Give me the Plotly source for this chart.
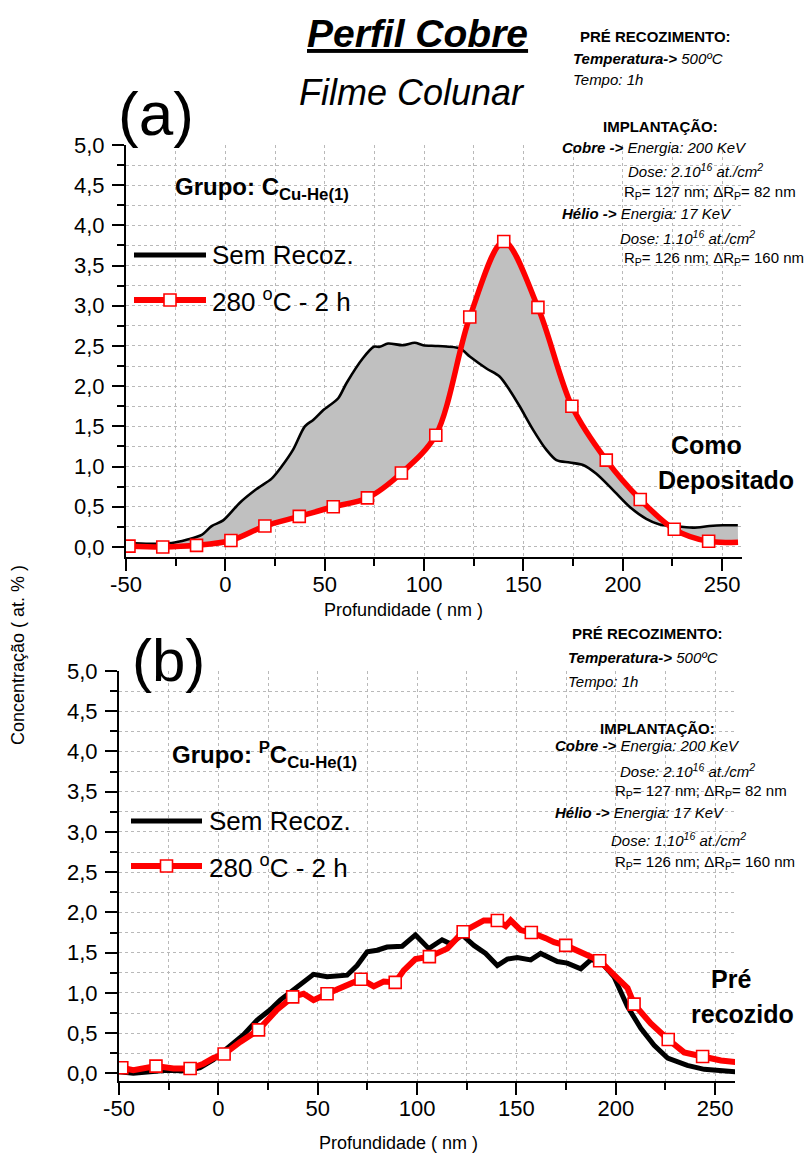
import plotly.graph_objects as go

W, H = 810, 1156
FONT = "Liberation Sans, Arial, sans-serif"

# ---------------- Panel (a): Filme colunar, como depositado ----------------
a_black_x = [-49.7, -37.9, -27.0, -19.5, -11.9, -6.9, -1.1, 7.3, 15.7, 23.3, 28.3, 34.1,
             40.0, 44.2, 49.2, 56.8, 61.0, 69.3, 74.7, 77.7, 81.9, 89.4, 95.3, 99.5,
             107.0, 118.0, 123.0, 131.4, 138.0, 143.1, 148.1, 154.8, 161.5, 166.6, 173.3,
             180.0, 186.7, 195.0, 203.4, 211.8, 218.5, 225.2, 235.3, 243.6, 250.4, 257.9]
a_black_y = [0.05, 0.04, 0.05, 0.09, 0.15, 0.26, 0.33, 0.55, 0.72, 0.85, 1.00, 1.21,
             1.50, 1.58, 1.70, 1.85, 2.04, 2.35, 2.49, 2.49, 2.53, 2.51, 2.54, 2.51,
             2.50, 2.47, 2.37, 2.22, 2.12, 1.95, 1.75, 1.46, 1.21, 1.08, 1.05,
             1.02, 0.91, 0.71, 0.50, 0.35, 0.28, 0.26, 0.24, 0.26, 0.27, 0.27]

a_red_x = [-48.5, -31.5, -14.5, 2.8, 19.9, 37.2, 54.3, 71.5, 88.6, 105.9, 123.0,
           140.1, 157.3, 174.4, 191.7, 208.8, 225.9, 243.2]
a_red_y = [0.01, 0.00, 0.02, 0.08, 0.26, 0.38, 0.50, 0.61, 0.92, 1.39, 2.86,
           3.80, 2.98, 1.75, 1.08, 0.59, 0.22, 0.07]
a_red_tail_x = [258.0]
a_red_tail_y = [0.06]

# ---------------- Panel (b): pré recozido ----------------
b_black_x = [-50.0, -42.8, -34.4, -26.0, -15.9, -9.2, -2.5, 7.6, 12.7, 19.4, 26.1, 31.1,
             37.9, 42.9, 47.9, 54.7, 64.8, 69.8, 74.9, 79.9, 84.9, 92.5, 99.2, 105.9,
             112.6, 116.8, 122.7, 128.6, 134.5, 140.4, 145.4, 150.4, 157.2, 162.2, 170.6,
             175.6, 182.4, 187.4, 192.4, 199.1, 205.9, 212.6, 219.3, 226.1, 236.0, 244.5, 260.5]
b_black_y = [0.02, 0.00, 0.02, 0.04, 0.03, 0.07, 0.17, 0.37, 0.48, 0.66, 0.79, 0.91,
             1.04, 1.12, 1.23, 1.20, 1.22, 1.34, 1.51, 1.53, 1.57, 1.58, 1.72, 1.55,
             1.66, 1.61, 1.72, 1.59, 1.49, 1.34, 1.42, 1.44, 1.41, 1.49, 1.39,
             1.37, 1.30, 1.41, 1.39, 1.20, 0.83, 0.56, 0.35, 0.19, 0.10, 0.05, 0.02]

b_red_x = [-48.6, -42.8, -31.4, -22.6, -14.2, -7.5, -2.5, 2.9, 11.0, 20.2, 29.5, 37.4,
           42.9, 47.9, 54.7, 63.1, 71.8, 78.2, 83.2, 89.0, 93.3, 99.2, 106.2, 115.2,
           123.2, 133.6, 140.4, 144.6, 147.1, 152.1, 157.5, 164.7, 168.9, 174.8, 182.4,
           191.9, 200.9, 205.9, 209.2, 217.6, 226.4, 234.4, 243.7, 252.9, 260.5]
b_red_y = [0.07, 0.04, 0.09, 0.06, 0.06, 0.12, 0.19, 0.24, 0.39, 0.54, 0.79, 0.95,
           0.99, 0.91, 0.99, 1.08, 1.17, 1.08, 1.14, 1.13, 1.28, 1.42, 1.45, 1.55,
           1.76, 1.90, 1.90, 1.83, 1.90, 1.78, 1.75, 1.68, 1.63, 1.59, 1.51,
           1.40, 1.18, 1.06, 0.86, 0.62, 0.42, 0.26, 0.21, 0.16, 0.14]
b_mark_x = [-48.6, -31.4, -14.2, 2.9, 20.2, 37.4, 54.7, 71.8, 89.0, 106.2, 123.2,
            140.4, 157.5, 174.8, 191.9, 209.2, 226.4, 243.7]
b_mark_y = [0.07, 0.09, 0.06, 0.24, 0.54, 0.95, 0.99, 1.17, 1.13, 1.45, 1.76,
            1.90, 1.75, 1.59, 1.40, 0.86, 0.42, 0.21]

x_ticks = [-50, 0, 50, 100, 150, 200, 250]
y_ticks = [0.0, 0.5, 1.0, 1.5, 2.0, 2.5, 3.0, 3.5, 4.0, 4.5, 5.0]

series_names = ["Sem Recoz.", "280 <sup>o</sup>C - 2 h"]

RED = "#ff0000"
GRID = "#b9b9b9"
MARK = dict(symbol="square", size=12, color="white", line=dict(color=RED, width=1.6))

fig = go.Figure()

# panel (a)
fig.add_trace(go.Scatter(x=a_black_x, y=a_black_y, mode="lines", name=series_names[0],
                         line=dict(color="black", width=2.6, shape="spline", smoothing=0.8),
                         xaxis="x", yaxis="y"))
fig.add_trace(go.Scatter(x=a_red_x + a_red_tail_x, y=a_red_y + a_red_tail_y, mode="lines",
                         name=series_names[1], fill="tonexty", fillcolor="#c0c0c0",
                         line=dict(color=RED, width=5.5, shape="spline", smoothing=0.9),
                         xaxis="x", yaxis="y"))
fig.add_trace(go.Scatter(x=a_red_x, y=a_red_y, mode="markers", marker=MARK,
                         xaxis="x", yaxis="y", showlegend=False))

# panel (b)
fig.add_trace(go.Scatter(x=b_black_x, y=b_black_y, mode="lines", name=series_names[0],
                         line=dict(color="black", width=5),
                         xaxis="x2", yaxis="y2"))
fig.add_trace(go.Scatter(x=b_red_x, y=b_red_y, mode="lines", name=series_names[1],
                         line=dict(color=RED, width=6),
                         xaxis="x2", yaxis="y2"))
fig.add_trace(go.Scatter(x=b_mark_x, y=b_mark_y, mode="markers", marker=MARK,
                         xaxis="x2", yaxis="y2", showlegend=False))


def px(x):
    return x / W


def py(y):
    return 1 - y / H


def xaxis_style(domain, anchor):
    return dict(domain=domain, anchor=anchor, range=[-50, 260], tickmode="array",
                tickvals=x_ticks, ticktext=[str(v) for v in x_ticks], automargin=False,
                showline=True, linecolor="black", linewidth=2.2,
                ticks="outside", ticklen=12, tickwidth=2, tickcolor="black",
                showgrid=True, gridcolor=GRID, griddash="dot", gridwidth=1,
                zeroline=False, tickfont=dict(family=FONT, size=22, color="black"),
                ticklabelstandoff=-6,
                minor=dict(dtick=25, tick0=-50, ticks="outside", ticklen=7, tickwidth=2,
                           tickcolor="black", showgrid=True, gridcolor=GRID,
                           griddash="dot", gridwidth=1))


def yaxis_style(domain, anchor, lo):
    return dict(domain=domain, anchor=anchor, range=[lo, 5.0], tickmode="array",
                tickvals=y_ticks, tickformat=".1f", automargin=False,
                showline=True, linecolor="black", linewidth=2.2,
                ticks="outside", ticklen=12, tickwidth=2, tickcolor="black",
                showgrid=True, gridcolor=GRID, griddash="dot", gridwidth=1,
                zeroline=False, tickfont=dict(family=FONT, size=22, color="black"),
                ticklabelstandoff=3,
                minor=dict(dtick=0.25, tick0=0, ticks="outside", ticklen=7, tickwidth=2,
                           tickcolor="black", showgrid=True, gridcolor=GRID,
                           griddash="dot", gridwidth=1))


annotations = []


def txt(text, x, y, size, xanchor="left", angle=0, color="black"):
    annotations.append(dict(text=text, x=px(x), y=py(y), xref="paper", yref="paper",
                            xanchor=xanchor, yanchor="middle", showarrow=False,
                            textangle=angle,
                            font=dict(family=FONT, size=size, color=color)))


# titles
txt("<b><i><u>Perfil Cobre</u></i></b>", 417, 33, 39, "center")
txt("<i>Filme Colunar</i>", 412, 93, 36, "center")
txt("(a)", 156, 113, 62, "center")
txt("(b)", 168, 660, 60, "center")


# info blocks
def info(pos):
    (c1, y1), (l2, y2), (y3,), (c4, y4), (l5, y5), (l6, y6), (l7, y7), (y8,), (l9, y9), (l10, y10) = pos
    txt("<b>PRÉ RECOZIMENTO:</b>", c1, y1, 15, "center")
    txt("<b><i>Temperatura-></i></b><i> 500ºC</i>", l2, y2, 15)
    txt("<i>Tempo: 1h</i>", l2, y3, 15)
    txt("<b>IMPLANTAÇÃO:</b>", c4, y4, 15, "center")
    txt("<b><i>Cobre -></i></b><i> Energia: 200 KeV</i>", l5, y5, 15)
    txt("<i>Dose: 2.10<sup>16</sup> at./cm<sup>2</sup></i>", l6, y6, 15)
    txt("R<sub>P</sub>= 127 nm; ΔR<sub>P</sub>= 82 nm", l7, y7, 15)
    txt("<b><i>Hélio -></i></b><i> Energia: 17 KeV</i>", l5, y8, 15)
    txt("<i>Dose: 1.10<sup>16</sup> at./cm<sup>2</sup></i>", l9, y9, 15)
    txt("R<sub>P</sub>= 126 nm; ΔR<sub>P</sub>= 160 nm", l10, y10, 15)


info([(655, 36), (571, 59), (80,), (660, 127), (560, 147), (626, 170), (622, 192),
      (213,), (618, 238), (622, 259)])
info([(647, 633), (566, 657), (681,), (657, 729), (553, 745), (618, 770), (613, 792),
      (813,), (609, 839), (613, 862)])

# group labels
txt("<b>Grupo: C<sub>Cu-He(1)</sub></b>", 173, 188, 24)
txt("<b>Grupo: <sup>P</sup>C<sub>Cu-He(1)</sub></b>", 170, 755, 24)

# state labels
txt("<b>Como</b>", 706, 445, 25, "center")
txt("<b>Depositado</b>", 726, 480, 25, "center")
txt("<b>Pré</b>", 731, 979, 25, "center")
txt("<b>recozido</b>", 742, 1014, 25, "center")

# axis titles
txt("Profundidade ( nm )", 403, 610, 18, "center")
txt("Profundidade ( nm )", 398, 1143, 18, "center")
txt("Concentração ( at. % )", 18, 655, 18, "center", angle=-90)

# manual legends
shapes = []


def legend(x0, x1, y_black, y_red, text_x):
    shapes.append(dict(type="line", xref="paper", yref="paper", x0=px(x0), x1=px(x1),
                       y0=py(y_black), y1=py(y_black), line=dict(color="black", width=5)))
    shapes.append(dict(type="line", xref="paper", yref="paper", x0=px(x0), x1=px(x1),
                       y0=py(y_red), y1=py(y_red), line=dict(color=RED, width=6)))
    xm = (x0 + x1) / 2
    shapes.append(dict(type="rect", xref="paper", yref="paper", x0=px(xm - 6), x1=px(xm + 6),
                       y0=py(y_red - 6), y1=py(y_red + 6), fillcolor="white",
                       line=dict(color=RED, width=1.6)))
    txt(series_names[0], text_x, y_black, 26)
    txt(series_names[1], text_x, y_red, 26)


legend(134, 206, 255, 300, 210)
legend(131, 202, 821, 866, 207)

fig.update_layout(
    width=W, height=H, margin=dict(l=0, r=0, t=0, b=0, autoexpand=False),
    paper_bgcolor="white", plot_bgcolor="white",
    separators=",.", showlegend=False,
    font=dict(family=FONT, color="black"),
    xaxis=xaxis_style([126 / W, 742 / W], "y"),
    yaxis=yaxis_style([1 - 557 / H, 1 - 145 / H], "x", -0.125),
    xaxis2=xaxis_style([119 / W, 735 / W], "y2"),
    yaxis2=yaxis_style([1 - 1081 / H, 1 - 671 / H], "x2", -0.095),
    annotations=annotations, shapes=shapes,
)

fig.write_html("out.html")
